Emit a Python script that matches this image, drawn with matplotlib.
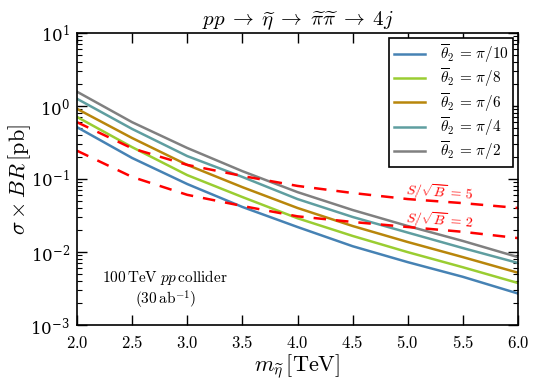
import numpy as np
import matplotlib
matplotlib.use('Agg')
import matplotlib.pyplot as plt
from matplotlib.ticker import FuncFormatter, LogLocator

plt.rcParams['mathtext.fontset'] = 'cm'
plt.rcParams['font.family'] = 'serif'
plt.rcParams['font.serif'] = ['DejaVu Serif']

# masses in TeV
m_eta = [2.0, 2.5, 3.0, 3.5, 4.0, 4.5, 5.0, 5.5, 6.0]

# sigma x BR [pb] for each theta_2
xs_pi10 = [0.513, 0.194, 0.0853, 0.0414, 0.0220, 0.0120, 0.00726, 0.00457, 0.0027]
xs_pi8 = [0.708, 0.273, 0.113, 0.0566, 0.029, 0.0166, 0.00995, 0.00618, 0.00376]
xs_pi6 = [0.914, 0.364, 0.156, 0.0773, 0.0401, 0.0227, 0.0137, 0.00851, 0.0052]
xs_pi4 = [1.256, 0.485, 0.206, 0.1067, 0.0531, 0.0302, 0.01845, 0.01132, 0.00708]
xs_pi2 = [1.57, 0.600, 0.266, 0.128, 0.0661, 0.0376, 0.0227, 0.01416, 0.00851]

# significance lines
sig5 = [0.600, 0.263, 0.156, 0.110, 0.0804, 0.0643, 0.0531, 0.0467, 0.0401]
sig2 = [0.244, 0.1067, 0.0607, 0.0427, 0.0308, 0.0258, 0.0220, 0.0189, 0.0155]

labels = [r'$\overline{\theta}_2\,=\,\pi/10$', r'$\overline{\theta}_2\,=\,\pi/8$',
          r'$\overline{\theta}_2\,=\,\pi/6$', r'$\overline{\theta}_2\,=\,\pi/4$',
          r'$\overline{\theta}_2\,=\,\pi/2$']
colors = ['#4682b4', '#9acd32', '#b8860b', '#5f9ea0', '#808080']

fig = plt.figure(figsize=(5.4, 3.86), dpi=100)
ax = fig.add_axes([77/540, 61/386, 441/540, 292/386])

for ys, lab, c in zip([xs_pi10, xs_pi8, xs_pi6, xs_pi4, xs_pi2], labels, colors):
    ax.semilogy(m_eta, ys, color=c, lw=1.8, label=lab)

ax.semilogy(m_eta, sig5, 'r--', lw=1.8, dashes=(5, 4))
ax.semilogy(m_eta, sig2, 'r--', lw=1.8, dashes=(5, 4))

ax.text(5.29, 0.066, r'$S/\sqrt{B}\,=\,5$', color='r', fontsize=10, ha='center', va='center', rotation=-4)
ax.text(5.29, 0.0272, r'$S/\sqrt{B}\,=\,2$', color='r', fontsize=10, ha='center', va='center', rotation=-4)

##annotation
ax.text(0.2, 0.164, r'$100\,\mathrm{TeV}\;pp\,\mathrm{collider}$', transform=ax.transAxes,
        ha='center', va='center', fontsize=11)
ax.text(0.2, 0.086, r'$(30\,\mathrm{ab}^{-1})$', transform=ax.transAxes,
        ha='center', va='center', fontsize=11)

ax.set_xlim(2.0, 6.0)
ax.set_ylim(1e-3, 1e1)
ax.set_xticks(np.arange(2.0, 6.01, 0.5))
ax.xaxis.set_major_formatter(FuncFormatter(lambda v, p: r'$%.1f$' % v))
ax.yaxis.set_major_locator(LogLocator(base=10, numticks=10))
ax.yaxis.set_minor_locator(LogLocator(base=10, subs=np.arange(2, 10), numticks=20))

ax.tick_params(which='both', direction='in', top=True, right=True, labelsize=12)
ax.tick_params(which='major', length=7, width=1)
ax.tick_params(which='minor', length=3.5, width=0.8)
ax.tick_params(axis='x', pad=7)
ax.tick_params(axis='y', pad=5)
for s in ax.spines.values():
    s.set_linewidth(1.2)

ax.set_xlabel(r'$m_{\widetilde{\eta}}\,[\mathrm{TeV}]$', fontsize=16, labelpad=0)
ax.set_ylabel(r'$\sigma\times BR\,[\mathrm{pb}]$', fontsize=16, labelpad=-2)
ax.set_title(r'$pp\;\rightarrow\;\widetilde{\eta}\;\rightarrow\;\widetilde{\pi}\widetilde{\pi}\;\rightarrow\;4j$',
             fontsize=15, pad=3)

leg = ax.legend(loc='upper right', fontsize=11, fancybox=False, framealpha=1,
                edgecolor='black', handlelength=2.0, handletextpad=1.0,
                labelspacing=0.1, borderpad=0.3, borderaxespad=0.3)
leg.get_frame().set_linewidth(1.2)

fig.savefig('out.png', dpi=100, facecolor='white')
